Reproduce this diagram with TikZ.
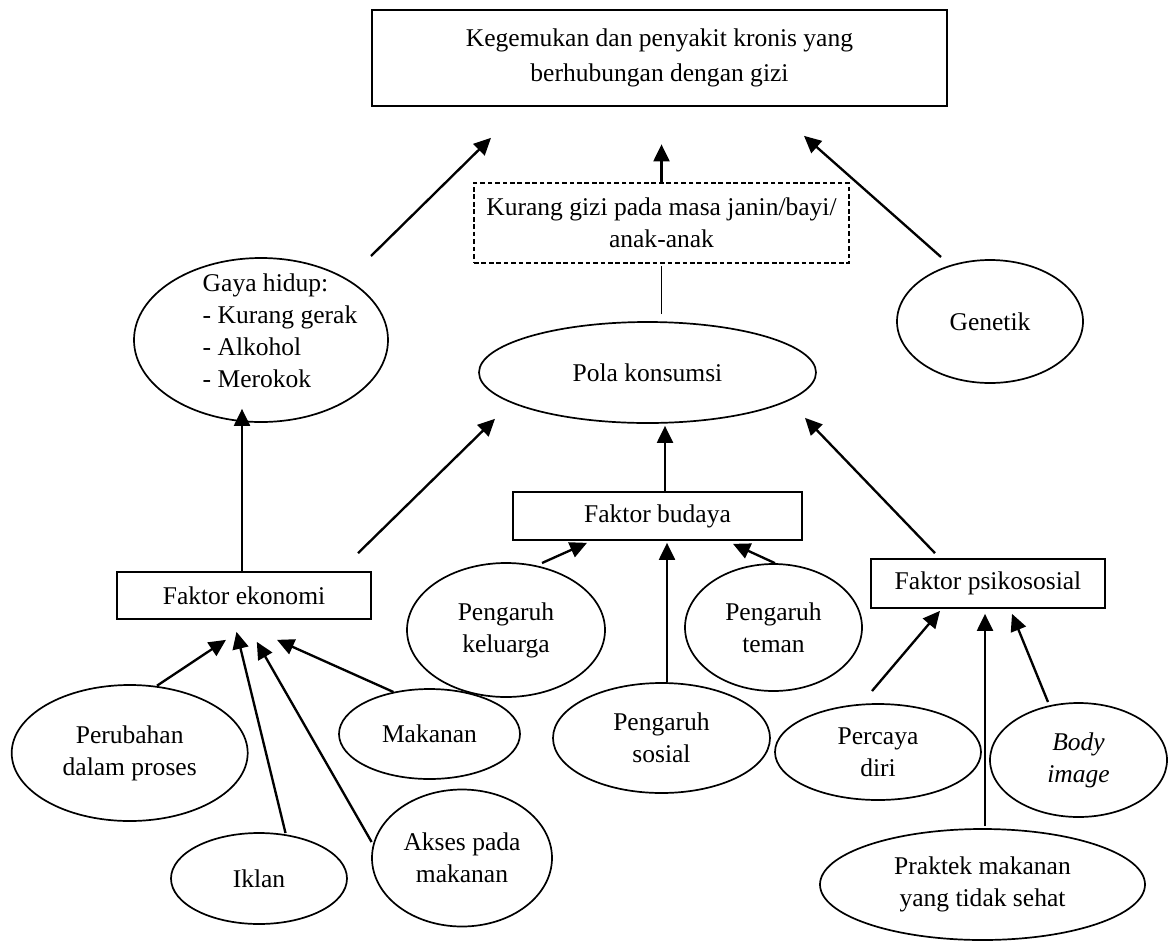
\documentclass[tikz,border=0pt]{standalone}
\usepackage{fontspec}
\setmainfont{Liberation Serif}
\usepackage{tikz}
\usetikzlibrary{shapes.geometric,arrows.meta,calc}
\newdimen\pxu
\pxu=0.47pt
\begin{document}
\begin{tikzpicture}[x=0.47pt,y=0.47pt]
\tikzstyle{every node}+=[inner sep=0pt, font=\fontsize{12}{15}\selectfont, align=center]
\tikzstyle{kotak}=[draw, rectangle, line width=0.8pt]
\tikzstyle{putus}=[draw, rectangle, line width=0.6pt, dash pattern=on 2.2pt off 1.3pt]
\tikzstyle{elips}=[draw, ellipse, line width=0.8pt]
\tikzstyle{panah}=[line width=1.1pt, -{Triangle[length=8pt,width=7.5pt]}]
\tikzstyle{garis}=[line width=0.8pt]
\useasboundingbox (0,0) rectangle (1169,-947);
% kotak atas
\node [kotak, minimum width=575\pxu, minimum height=96\pxu, font=\fontsize{12}{16.5}\selectfont] (gizi) at (659.5,-58) {Kegemukan dan penyakit kronis yang\\berhubungan dengan gizi};
\node [putus, minimum width=375\pxu, minimum height=80\pxu] (kurang) at (661.5,-223) {Kurang gizi pada masa janin/bayi/\\anak-anak};
% baris tengah
\node [elips, minimum width=254\pxu, minimum height=164\pxu] (gaya) at (261,-340) {};
\node [align=left] (gayateks) at (280,-331) {Gaya hidup:\\- Kurang gerak\\- Alkohol\\- Merokok};
\node [elips, minimum width=337\pxu, minimum height=101\pxu] (pola) at (647.5,-372.5) {Pola konsumsi};
\node [elips, minimum width=186\pxu, minimum height=123\pxu] (genetik) at (990,-321.5) {Genetik};
% faktor
\node [kotak, minimum width=289\pxu, minimum height=48\pxu] (budaya) at (657.5,-516) {Faktor budaya};
\node [kotak, minimum width=254\pxu, minimum height=47\pxu] (ekonomi) at (244,-595.5) {Faktor ekonomi};
\node [kotak, minimum width=234\pxu, minimum height=49\pxu] (psiko) at (988,-583.5) {Faktor psikososial};
% elips bawah
\node [elips, minimum width=198\pxu, minimum height=134\pxu] (keluarga) at (506,-630) {Pengaruh\\keluarga};
\node [elips, minimum width=177\pxu, minimum height=127\pxu] (teman) at (773.5,-627.5) {Pengaruh\\teman};
\node [elips, minimum width=217\pxu, minimum height=110\pxu] (sosial) at (661.5,-738) {Pengaruh\\sosial};
\node [elips, minimum width=206\pxu, minimum height=96\pxu] (percaya) at (878,-752) {Percaya\\diri};
\node [elips, minimum width=177\pxu, minimum height=114\pxu] (body) at (1078.5,-760) {\textit{Body}\\\textit{image}};
\node [elips, minimum width=325\pxu, minimum height=111\pxu] (praktek) at (982.5,-884.5) {Praktek makanan\\yang tidak sehat};
\node [elips, minimum width=236\pxu, minimum height=136\pxu] (perubahan) at (129.7,-753) {Perubahan\\dalam proses};
\node [elips, minimum width=176\pxu, minimum height=91\pxu] (iklan) at (259,-878.5) {Iklan};
\node [elips, minimum width=180\pxu, minimum height=137\pxu] (akses) at (462,-858) {Akses pada\\makanan};
\node [elips, minimum width=181\pxu, minimum height=90\pxu] (makanan) at (429.5,-734) {Makanan};
% panah ke kotak atas
\draw [panah] ($(gaya)+(110,84)$) -- ($(gizi.south)+(-168.5,-31)$);
\draw [panah] (kurang.north) -- ++(0,38);
\draw [panah] ($(genetik)+(-49,64.5)$) -- ($(gizi.south)+(144.5,-29)$);
\draw [garis] ($(pola.north)+(14,7)$) -- ($(kurang.south)+(0,-2)$);
% panah ke gaya hidup dan pola konsumsi
\draw [panah] ($(ekonomi.north)+(-2,0)$) -- ($(gaya.south)+(-19,14)$);
\draw [panah] ($(ekonomi.north)+(114,18)$) -- ($(pola.south)+(-152.5,5)$);
\draw [panah] ($(budaya.north)+(7.5,0)$) -- ($(pola.south)+(17.5,-2)$);
\draw [panah] ($(psiko.north)+(-53,5)$) -- ($(pola.south)+(157.5,6)$);
% panah ke faktor budaya
\draw [panah] ($(keluarga)+(36,67)$) -- ($(budaya.south)+(-70.5,-2)$);
\draw [panah] ($(sosial.north)+(5.5,0)$) -- ($(budaya.south)+(9.5,-2)$);
\draw [panah] ($(teman.north)+(1.5,0)$) -- ($(budaya.south)+(75.5,-3)$);
% panah ke faktor psikososial
\draw [panah] ($(percaya)+(-6,61)$) -- ($(psiko.south)+(-48,-2)$);
\draw [panah] ($(body)+(-30.5,58)$) -- ($(psiko.south)+(24,-5)$);
\draw [panah] ($(praktek.north)+(2.5,2)$) -- ($(psiko.south)+(-3,-5)$);
% panah ke faktor ekonomi
\draw [panah] ($(perubahan)+(27.3,67.3)$) -- ($(ekonomi.south)+(-18,-20)$);
\draw [panah] ($(iklan)+(26.5,45.5)$) -- ($(ekonomi.south)+(-7.5,-12)$);
\draw [panah] ($(akses)+(-90.4,16)$) -- ($(ekonomi.south)+(12.8,-22)$);
\draw [panah] ($(makanan)+(-36,42)$) -- ($(ekonomi.south)+(33,-20)$);
\end{tikzpicture}
\end{document}
